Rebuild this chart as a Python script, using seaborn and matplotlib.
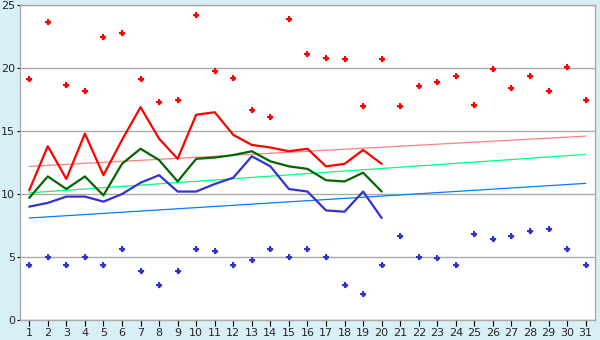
import numpy as np
import pandas as pd
import matplotlib
matplotlib.use("Agg")
import matplotlib.pyplot as plt
import seaborn as sns

# days of the month
days = list(range(1, 32))
line_days = list(range(1, 21))

# daily extremes (diamonds)
max_vals = [19.1, 23.7, 18.7, 18.2, 22.5, 22.8, 19.1, 17.3, 17.5, 24.2,
            19.8, 19.2, 16.7, 16.1, 23.9, 21.1, 20.8, 20.7, 17.0, 20.7,
            17.0, 18.6, 18.9, 19.4, 17.1, 19.9, 18.4, 19.4, 18.2, 20.1, 17.5]
min_vals = [4.4, 5.0, 4.4, 5.0, 4.4, 5.6, 3.9, 2.8, 3.9, 5.6,
            5.5, 4.4, 4.8, 5.6, 5.0, 5.6, 5.0, 2.8, 2.1, 4.4,
            6.7, 5.0, 4.9, 4.4, 6.8, 6.4, 6.7, 7.1, 7.2, 5.6, 4.4]

# daily lines (first 20 days)
red_line = [10.3, 13.8, 11.2, 14.8, 11.5, 14.3, 16.9, 14.4, 12.8, 16.3,
            16.5, 14.7, 13.9, 13.7, 13.4, 13.6, 12.2, 12.4, 13.5, 12.4]
green_line = [9.7, 11.4, 10.4, 11.4, 9.9, 12.4, 13.6, 12.7, 11.0, 12.8,
              12.9, 13.1, 13.4, 12.6, 12.2, 12.0, 11.1, 11.0, 11.7, 10.2]
blue_line = [9.0, 9.3, 9.8, 9.8, 9.4, 10.0, 10.9, 11.5, 10.2, 10.2,
             10.8, 11.3, 13.0, 12.2, 10.4, 10.2, 8.7, 8.6, 10.2, 8.1]

# trend lines (value on day 1 and on day 31)
trend_days = [1, 31]
red_trend = [12.2, 14.6]
green_trend = [10.1, 13.15]
blue_trend = [8.1, 10.85]

sns.set_style("white")
plt.rcParams['font.family'] = ['DejaVu Sans']

bg = "#d9eff6"
fig = plt.figure(figsize=(6, 3.4), dpi=100, facecolor=bg)
ax = fig.add_axes([0.0333, 0.0588, 0.9583, 0.926])
ax.set_facecolor("white")

ax.set_ylim(0, 25)
ax.set_xlim(0.5, 31.5)
ax.set_yticks([0, 5, 10, 15, 20, 25])
ax.set_xticks(days)
ax.yaxis.grid(True, color="#aaaaaa", linewidth=1.0)
ax.set_axisbelow(True)

# trend lines
sns.lineplot(x=trend_days, y=red_trend, color="#ff8080", linewidth=0.9, ax=ax)
sns.lineplot(x=trend_days, y=green_trend, color="#00ff80", linewidth=0.9, ax=ax)
sns.lineplot(x=trend_days, y=blue_trend, color="#0080ff", linewidth=0.9, ax=ax)

# daily lines
sns.lineplot(x=line_days, y=blue_line, color="#3333cc", linewidth=1.6, ax=ax)
sns.lineplot(x=line_days, y=green_line, color="#006600", linewidth=1.6, ax=ax)
sns.lineplot(x=line_days, y=red_line, color="#ff0000", linewidth=1.6, ax=ax)

# extremes: small diamond with a cross
for vals, col in [(max_vals, "#ff0000"), (min_vals, "#3333cc")]:
    sns.scatterplot(x=days, y=vals, color=col, marker="P", s=24,
                    linewidth=0, ax=ax)
    sns.scatterplot(x=days, y=vals, color=col, marker="D", s=9,
                    linewidth=0, ax=ax)

for side in ["left", "right", "top", "bottom"]:
    ax.spines[side].set_color("#aaaaaa")
    ax.spines[side].set_linewidth(1.0)

ax.tick_params(axis="x", direction="out", length=4, width=0.8,
               color="black", labelsize=8, pad=2, bottom=True)
ax.tick_params(axis="y", direction="out", length=2.5, width=0.8,
               color="black", labelsize=8, pad=1, left=True)
ax.set_xlabel("")
ax.set_ylabel("")

fig.savefig("out.png", dpi=100, facecolor=bg)
